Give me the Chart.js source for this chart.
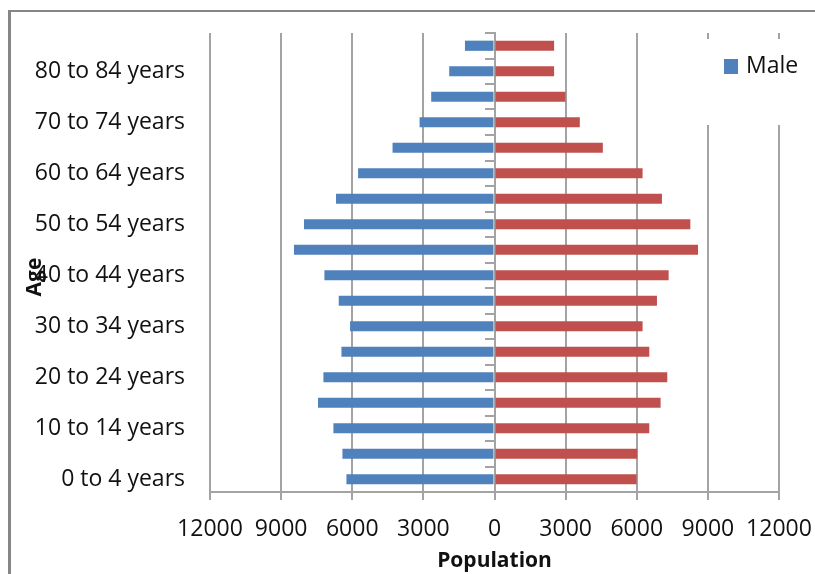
<!DOCTYPE html>
<html>
<head>
<meta charset="utf-8">
<title>Population pyramid</title>
<script src="https://cdn.jsdelivr.net/npm/chart.js@4.4.1/dist/chart.umd.min.js"></script>
<style>
    html, body { margin: 0; padding: 0; background: #ffffff; overflow: hidden; }
    #frame {
        position: absolute; left: 8px; top: 10px;
        width: 900px; height: 700px;
        border-left: 3px solid #868686; border-top: 2px solid #868686;
    }
    #chart { position: absolute; left: 0; top: 0; }
</style>
</head>
<body>
<div id="frame"></div>
<canvas id="chart" width="815" height="574"></canvas>
<script>
// ========================================
// DATA
// ========================================
const ageGroups = [
    '0 to 4 years', '5 to 9 years', '10 to 14 years', '15 to 19 years',
    '20 to 24 years', '25 to 29 years', '30 to 34 years', '35 to 39 years',
    '40 to 44 years', '45 to 49 years', '50 to 54 years', '55 to 59 years',
    '60 to 64 years', '65 to 69 years', '70 to 74 years', '75 to 79 years',
    '80 to 84 years', '85 years and over'
];
const maleCounts = [6245, 6414, 6794, 7444, 7216, 6456, 6092, 6570, 7174,
                    8458, 8036, 6684, 5754, 4300, 3160, 2670, 1910, 1246];
const femaleCounts = [5993, 6020, 6528, 7006, 7288, 6528, 6246, 6852, 7345,
                      8584, 8260, 7063, 6246, 4570, 3598, 2993, 2514, 2514];
const populationTicks = [-12000, -9000, -6000, -3000, 0, 3000, 6000, 9000, 12000];

// ========================================
// STYLE
// ========================================
const COLORS = {
    male: '#4F81BD',
    female: '#C0504D',
    grid: '#a3a3a3',
    text: '#111111'
};
const FONT_FAMILY = '"Open Sans", "Noto Sans", sans-serif';

// Legend box showing only the first series, drawn over the gridlines
const singleLegendPlugin = {
    id: 'singleLegend',
    afterDraw: function(chart) {
        const ctx = chart.ctx;
        const area = chart.chartArea;
        const ds = chart.data.datasets[0];
        const boxLeft = area.right - 88;
        ctx.save();
        ctx.fillStyle = '#ffffff';
        ctx.fillRect(boxLeft, area.top + 6, 140, 86);
        ctx.fillStyle = ds.backgroundColor;
        ctx.fillRect(area.right - 55, area.top + 26, 14, 15);
        ctx.fillStyle = COLORS.text;
        ctx.font = '23px ' + FONT_FAMILY;
        ctx.textBaseline = 'middle';
        ctx.textAlign = 'left';
        ctx.fillText(ds.label, area.right - 33, area.top + 33);
        ctx.restore();
    }
};

// Rotated "Age" title sitting over the category labels, like the original
const ageTitlePlugin = {
    id: 'ageTitle',
    afterDraw: function(chart) {
        const ctx = chart.ctx;
        const area = chart.chartArea;
        ctx.save();
        ctx.translate(35, area.top + 244);
        ctx.rotate(-Math.PI / 2);
        ctx.fillStyle = COLORS.text;
        ctx.font = 'bold 21px ' + FONT_FAMILY;
        ctx.textAlign = 'center';
        ctx.textBaseline = 'middle';
        ctx.fillText('Age', 0, 0);
        ctx.restore();
    }
};

function createDatasets() {
    return [
        {
            label: 'Male',
            data: maleCounts.map(v => -v),
            backgroundColor: COLORS.male,
            borderWidth: 0,
            barPercentage: 0.4,
            categoryPercentage: 1,
            yAxisID: 'y'
        },
        {
            label: 'Female',
            data: femaleCounts,
            backgroundColor: COLORS.female,
            borderWidth: 0,
            barPercentage: 0.4,
            categoryPercentage: 1,
            yAxisID: 'y'
        }
    ];
}

function createOptions() {
    return {
        indexAxis: 'y',
        responsive: false,
        animation: false,
        layout: { padding: { left: 10, right: 36, top: 33, bottom: 0 } },
        scales: {
            x: {
                type: 'linear',
                stacked: true,
                min: populationTicks[0],
                max: populationTicks[populationTicks.length - 1],
                afterBuildTicks: function(scale) {
                    scale.ticks = populationTicks.map(v => ({ value: v }));
                },
                afterFit: function(scale) {
                    scale.height = 82;
                    scale.paddingLeft = 0;
                    scale.paddingRight = 0;
                },
                grid: { color: COLORS.grid, lineWidth: 2, tickLength: 8 },
                border: { color: COLORS.grid, width: 2 },
                ticks: {
                    color: COLORS.text,
                    padding: 16,
                    maxRotation: 0,
                    font: { family: FONT_FAMILY, size: 23 },
                    callback: v => String(Math.abs(v))
                },
                title: {
                    display: true,
                    text: 'Population',
                    color: COLORS.text,
                    font: { family: FONT_FAMILY, size: 21, weight: 'bold' },
                    padding: { top: 0, bottom: 0 }
                }
            },
            y: {
                type: 'category',
                stacked: true,
                reverse: true,
                offset: true,
                afterFit: function(scale) {
                    scale.width = 200;
                    scale.paddingTop = 0;
                    scale.paddingBottom = 0;
                },
                grid: { display: false, drawTicks: false },
                border: { display: false },
                ticks: {
                    autoSkip: false,
                    padding: 25,
                    color: COLORS.text,
                    font: { family: FONT_FAMILY, size: 23 },
                    callback: (v, i) => (i % 2 === 0 ? ageGroups[i] : '')
                }
            },
            yZero: {
                type: 'category',
                position: { x: 0 },
                reverse: true,
                offset: true,
                grid: {
                    drawOnChartArea: false,
                    offset: true,
                    color: COLORS.grid,
                    lineWidth: 2,
                    tickLength: 9
                },
                border: { color: COLORS.grid, width: 2 },
                ticks: { display: false }
            }
        },
        plugins: {
            legend: { display: false },
            tooltip: { enabled: false }
        }
    };
}

function initializeChart(canvasId) {
    const ctx = document.getElementById(canvasId).getContext('2d');
    return new Chart(ctx, {
        type: 'bar',
        data: {
            labels: ageGroups,
            datasets: createDatasets()
        },
        options: createOptions(),
        plugins: [singleLegendPlugin, ageTitlePlugin]
    });
}

initializeChart('chart');
</script>
</body>
</html>
